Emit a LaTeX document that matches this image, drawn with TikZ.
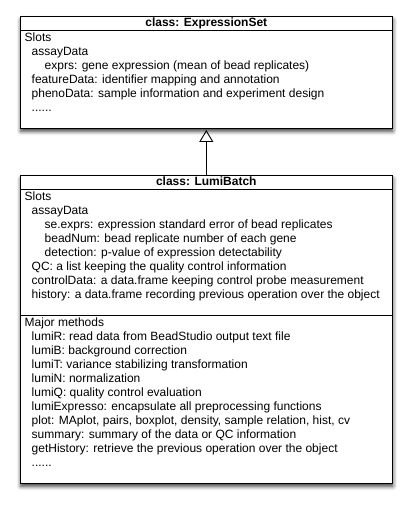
\documentclass[tikz,border=0pt]{standalone}
\usepackage{fontspec}
\setmainfont{Liberation Sans}
\usetikzlibrary{arrows.meta,shadows,shadows.blur,positioning}
\newcommand{\moredots}{......}

\begin{document}
\begin{tikzpicture}[x=1pt,y=-1pt,font=\fontsize{12}{14}\selectfont,
    classbox/.style={draw,line width=0.9pt,fill=white,minimum width=372pt,inner sep=0pt,
      blur shadow={shadow xshift=0.6pt,shadow yshift=-3pt,shadow blur radius=4pt,shadow opacity=80}},
    titlebar/.style={draw,line width=0.9pt,minimum width=372pt,minimum height=13.3pt,inner sep=0pt,
      text height=9pt,text depth=2.2pt,font=\fontsize{12}{14}\selectfont\bfseries},
    slotline/.style={anchor=base west,inner sep=0pt}]

    \useasboundingbox (0,0) rectangle (412,507);

    % Class ExpressionSet
    \node[classbox,minimum height=111.6pt] (exprset) at (206.3,72.5) {};
    \node[titlebar,anchor=north] (exprtitle) at (exprset.north) {class: ExpressionSet};
    \foreach \ind/\txt [count=\i] in {0/Slots, 7/assayData,
        20/{exprs: gene expression (mean of bead replicates)},
        7/{featureData: identifier mapping and annotation},
        7/{phenoData: sample information and experiment design},
        7/\moredots} {%
      \node[slotline] (es\i) at (24.5+\ind,27+14*\i) {\txt};
    }

    % Class LumiBatch
    \node[classbox,minimum height=307.6pt] (lumibatch) at (206.3,329.5) {};
    \node[titlebar,anchor=north] (lumititle) at (lumibatch.north) {class: LumiBatch};
    \node[draw,line width=0.9pt,minimum width=372pt,minimum height=168.3pt,inner sep=0pt,anchor=south]
      (methods) at (lumibatch.south) {};
    \foreach \ind/\txt [count=\i] in {0/Slots, 7/assayData,
        20/{se.exprs: expression standard error of bead replicates},
        20/{beadNum: bead replicate number of each gene},
        20/{detection: p-value of expression detectability},
        7/{QC: a list keeping the quality control information},
        7/{controlData: a data.frame keeping control probe measurement},
        7/{history: a data.frame recording previous operation over the object}} {%
      \node[slotline] (ls\i) at (24.5+\ind,186+14*\i) {\txt};
    }
    \foreach \ind/\txt [count=\i] in {0/Major methods,
        7/{lumiR: read data from BeadStudio output text file},
        7/{lumiB: background correction},
        7/{lumiT: variance stabilizing transformation},
        7/{lumiN: normalization},
        7/{lumiQ: quality control evaluation},
        7/{lumiExpresso: encapsulate all preprocessing functions},
        7/{plot: MAplot, pairs, boxplot, density, sample relation, hist, cv},
        7/{summary: summary of the data or QC information},
        7/{getHistory: retrieve the previous operation over the object},
        7/\moredots} {%
      \node[slotline] (lm\i) at (24.5+\ind,312+14*\i) {\txt};
    }

    % Inheritance arrow
    \draw[-{Triangle[open,length=12pt,width=14pt]},line width=0.9pt,shorten >=1.2pt]
      (lumititle.north) -- (exprset.south);

\end{tikzpicture}
\end{document}
